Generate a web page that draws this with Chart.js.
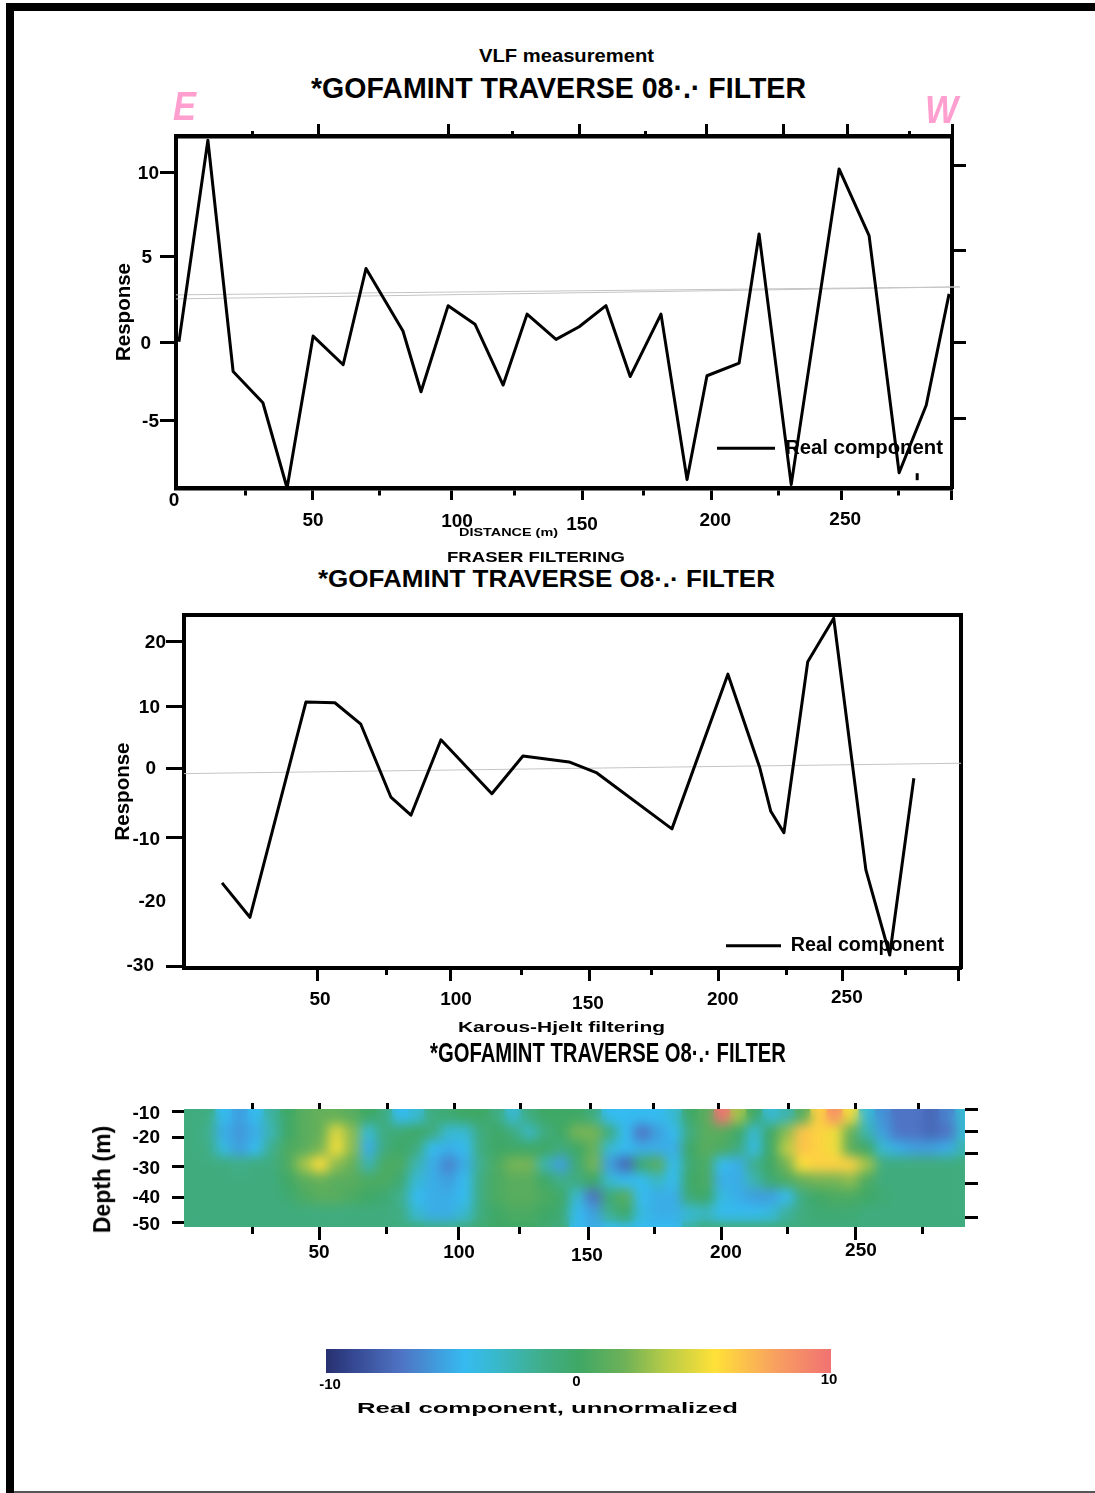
<!DOCTYPE html>
<html><head><meta charset="utf-8">
<script src="https://cdn.jsdelivr.net/npm/chart.js@4/dist/chart.umd.min.js"></script>
<style>
html,body{margin:0;padding:0;background:#fff}
body{position:relative;width:1095px;height:1493px;overflow:hidden;font-family:"Liberation Sans",Arial,sans-serif;color:#000}
canvas{position:absolute;display:block}
.t{position:absolute;white-space:pre;font-weight:bold;transform-origin:0 50%;line-height:1}
.bar{position:absolute;background:#000}
</style></head><body>
<div class="bar" style="left:6px;top:3px;width:8px;height:1490px"></div>
<div class="bar" style="left:6px;top:3px;width:1089px;height:8px"></div>
<div class="bar" style="left:14px;top:1491px;width:1081px;height:2px;background:#555"></div>
<canvas id="c1"></canvas><canvas id="c2"></canvas><canvas id="c3"></canvas><canvas id="c4"></canvas>
<script>
// ---------- text ----------
const titleTexts = ["VLF measurement","*GOFAMINT TRAVERSE 08\u00B7.\u00B7 FILTER","DISTANCE (m)","FRASER FILTERING",
  "*GOFAMINT TRAVERSE O8\u00B7.\u00B7 FILTER","Karous-Hjelt filtering","*GOFAMINT TRAVERSE O8\u00B7.\u00B7 FILTER","Real component, unnormalized","E","W"];
const seriesName = "Real component";
const depthTitle = "Depth (m)";

// ---------- panel 1: VLF measurement ----------
const vlfDistance = [1.1,12.0,21.5,32.7,41.8,51.6,62.9,71.5,85.4,92.2,102.4,112.5,123.1,132.1,143.0,151.7,161.8,170.9,182.5,192.3,199.8,211.9,219.4,231.5,249.5,260.8,272.1,282.3,290.9];
const vlfResponse = [0.06,12.0,-1.7,-3.55,-8.6,0.4,-1.3,4.4,0.7,-2.9,2.2,1.1,-2.5,1.7,0.2,0.95,2.2,-2.0,1.7,-8.1,-1.95,-1.2,6.45,-8.4,10.3,6.35,-7.7,-3.7,2.9];
const vlfFaintA = [[0,2.84],[295,3.31]];
const vlfFaintB = [[0,2.6],[295,3.31]];
const vlfSpeck = [[278.9,-7.93]];
const vlfBottomMajor = [51.2,103.5,152.8,201.4,250.3,291.7];
const vlfBottomMinor = [26,76.4,127.2,175.8,226.9,271.7];
const vlfBottomLabels = {0:"0",51.2:"50",103.5:"100",152.8:"150",201.4:"200",250.3:"250"};
const vlfTopMajor = [53.8,102.7,151.7,199.5,228.5,252.5,292];
const vlfTopMinor = [28.6,126.5,176.5,275.9];
const vlfLeftTicks = [10.06,5.09,0,-4.62];
const vlfLeftLabels = ["10","5","0","-5"];
const vlfRightTicks = [10.5,5.44,0,-4.5];

// ---------- panel 2: Fraser filtering ----------
const fraserDistance = [14.2,24.6,45.5,56.3,66.0,77.2,84.7,95.9,114.9,126.5,143.7,154.1,182.1,203.0,214.9,219.0,223.9,232.8,242.5,254.5,263.4,272.4];
const fraserResponse = [-17.2,-22.5,10.6,10.5,7.2,-4.0,-6.8,4.8,-3.5,2.3,1.4,-0.3,-8.9,14.9,0.5,-6.2,-9.5,16.8,23.5,-15.2,-28.3,-1.1];
const fraserFaint = [[0,-0.4],[290,1.2]];
const fraserBottomMajor = [50,99.3,151.5,199.6,245.9,289.2];
const fraserBottomMinor = [75.4,126.1,174.3,225,269.4];
const fraserBottomLabels = {50:"50",99.3:"100",151.5:"150",199.6:"200",245.9:"250"};
const fraserLeftTicks = [20,10,0.46,-10.3,-19.85,-30];
const fraserLeftLabels = ["20","10","0","-10","-20","-30"];

// ---------- panel 3: Karous-Hjelt filtering (cells) ----------
const heatDistance = [3,9,15,21,27,33,39,45,51,57,63,69,75,81,87,93,99,105,111,117,123,129,135,141,147,153,159,165,171,177,183,189,195,201,207,213,219,225,231,237,243,249,255,261,267,273,279,285,291];
const heatDepth = [-11.8,-17.5,-23.3,-29,-34.7,-40.5,-46.2,-52];
const heatValues = [
[-1,-1,-4.5,-5.5,-4.5,-2,0,1,1.5,1.5,1,0,-1,-4.5,-3.5,-1,-0.5,0,0,-1,-3.5,-1,0,0,0,-1,-4.5,-4.5,-4.5,-4.5,-3.5,0,1,10,3,0,-3.5,-2.5,1,6,8.5,5,-3.5,-6,-7,-7,-7.5,-6.5,-3.5],
[-1,-1.5,-5,-5.8,-5,-2.5,0,1,1.5,4.5,2.5,-3.5,-1,-0.5,0,-1,-3.5,-3.5,-1,0,-1,-3,-1,0,2,2,-1,-4.5,-7,-5.5,-4.5,-1,1,1,0,-3.5,0,2.5,6.5,6,5,1.5,-2.5,-5.5,-7,-7,-7.5,-7,-3.5],
[-1,-1.2,-4,-5.5,-4.5,-1.5,0.5,1,2,5,2.5,-5,-1,0,-1,-4.5,-5,-4.5,-1,0,0,0,0,-1,0,1.5,-3.5,-4.5,-5,-5,-5,0,1,0.5,-1,-4,0,3.5,6.5,6,5,1,0,-3.5,-5,-5.5,-5.5,-5,-2.5],
[-1,-1,-1,-1.5,-1,-1,0.5,3,5.5,2.5,1.5,-2.5,0.5,0.5,-2.5,-5,-6.5,-5,-1.5,0.5,2,2,-2.5,-5.5,-0.5,2,-5.5,-7.5,-0.5,1,-4.5,-0.5,0.5,-4.5,-5,-1.5,0,2,5.5,6,6,6,3,-1,-1,-1,-1,-1,-1],
[-1,-1,-1,-1,-1,-1,0,1,1.5,1,1,0.5,0.5,-0.5,-3.5,-5,-5.5,-4.5,-1,0.5,1,1,0,-1.5,-1,0,-3.5,-4.5,-4.5,-3,-4.5,0,0.5,-5,-5,-2.5,-0.5,0.5,1.5,2,2,2.5,0.5,-1,-1,-1,-1,-1,-1],
[-1,-1,-1,-1,-1,-1,-0.5,0.5,1,1,0.5,0,-0.5,-1.5,-4.5,-5,-5,-4.5,-1,0.5,1,1,0.5,0,-3.5,-7,-0.5,1,-4.5,-5,-5,-0.5,0,-4,-5,-5.5,-5.5,-4.5,-1,0,0.5,0.5,0,-0.5,-1,-1,-1,-1,-1],
[-1,-1,-1,-1,-1,-1,-1,-1,-1,-1,-1,-1,-1,-1.2,-3.5,-5,-5,-3.5,-1,0,0.5,0.5,0,-0.5,-4.5,-5.5,-1.5,0,-4,-5,-5,-3.5,-3,-4.5,-4.5,-4.5,-4,-2,-1,-0.5,-0.5,-0.5,-1,-1,-1,-1,-1,-1,-1],
[-1,-1,-1,-1,-1,-1,-1,-1,-1,-1,-1,-1,-1,-1,-1,-1.5,-1.5,-1,-0.5,0,0,0,-0.5,-1,-4.5,-5,-4.5,-4,-4.5,-4.5,-4.5,-2,-1,-1,-1,-1,-1,-1,-1,-1,-1,-1,-1,-1,-1,-1,-1,-1,-1]
];
const heatBottomMajor = [50.4,102.6,151.1,200.7,250.7];
const heatBottomMinor = [25.4,75.7,125,175.7,225,275.7];
const heatBottomLabels = {50.4:"50",102.6:"100",151.1:"150",200.7:"200",250.7:"250"};
const heatTopTicks = [25.4,50.4,76.1,101.1,125.4,151.5,175,199.6,225.4,250.7,273.9];
const heatLeftTicks = [-10,-18.93,-29.64,-40.36,-49.64];
const heatLeftLabels = ["-10","-20","-30","-40","-50"];
const heatRightTicks = [-8.93,-16.79,-25,-35.71,-47.5];

// ---------- colour scale ----------
const scaleValues = [-10,-9,-7,-4.5,-3.4,-1.4,0,1.8,3.5,5.4,7.8,10];
const scaleColours = ["#26306f","#34468f","#4f74c4","#35bbf0","#38b9d0","#40ae88","#3fa866","#6db158","#b9cc46","#ffe138","#f8a060","#f17272"];
const scaleTicks = [-10,0,10];

// ---------- helpers ----------
Chart.defaults.font.family = '"Liberation Sans",Arial,sans-serif';
Chart.defaults.font.weight = 'bold';
Chart.defaults.font.size = 19;
Chart.defaults.color = '#000';

const hex = h => [1,3,5].map(i=>parseInt(h.substr(i,2),16));
function colourFor(v){
  if(v<=scaleValues[0]) return scaleColours[0];
  for(let i=1;i<scaleValues.length;i++){
    if(v<=scaleValues[i]){
      const f=(v-scaleValues[i-1])/(scaleValues[i]-scaleValues[i-1]);
      const a=hex(scaleColours[i-1]),b=hex(scaleColours[i]);
      return 'rgb('+a.map((c,k)=>Math.round(c+(b[k]-c)*f)).join(',')+')';
    }
  }
  return scaleColours[scaleColours.length-1];
}
const pairs=(xs,ys)=>xs.map((x,i)=>({x,y:ys[i]}));
const lineOf=a=>a.map(p=>({x:p[0],y:p[1]}));

function place(id,left,top,w,h){
  const c=document.getElementById(id);
  c.width=w;c.height=h;c.style.left=left+'px';c.style.top=top+'px';c.style.width=w+'px';c.style.height=h+'px';
  return c;
}
function axis(position,min,max,size,o){
  const major=o.major||[],minor=o.minor||[],hidden=o.hiddenTicks||[];
  const all=[...major,...minor].sort((a,b)=>a-b);
  const horiz=position==='top'||position==='bottom';
  const tl=o.tickLength||0,sl=o.shortLength||5;
  const isMinor=v=>minor.includes(v);
  return {
    type:'linear',position,min,max,offset:false,
    afterBuildTicks:s=>{s.ticks=all.map(v=>({value:v}));},
    afterFit:s=>{ if(horiz) s.height=size; else s.width=size; },
    border:{display:o.border!==false,width:o.borderWidth||4,color:'#000'},
    grid:{display:true,drawOnChartArea:false,drawTicks:tl>0,tickLength:tl,tickWidth:3,
      tickColor:c=>{const t=c.tick; return t&&hidden.includes(t.value)?'rgba(0,0,0,0)':'#000';},
      tickBorderDash:c=>{
        const t=c.tick; if(!t||!isMinor(t.value)) return [];
        return (position==='top'||position==='left')?[0,tl-sl,sl,200]:[sl,200];
      }},
    ticks:{display:!!o.labels,autoSkip:false,maxRotation:0,minRotation:0,padding:o.padding||2,
      callback:v=>{ if(!o.labels) return ''; const r=o.labels(v); return r===undefined?'':r; },
      font:{size:o.fontSize||19,weight:'bold'},color:'#000'},
    title:o.title?{display:true,text:o.title,font:{size:o.titleSize||20.5,weight:'bold'},padding:{top:o.titleInset||0,bottom:0},color:'#000'}:{display:false}
  };
}
const nudge={id:'nudge',
  afterLayout(chart,args,opts){
    if(opts.legendAt&&chart.legend){ chart.legend.left=opts.legendAt[0]; chart.legend.top=opts.legendAt[1]; chart.legend.right=chart.width; chart.legend.bottom=chart.height; }
  },
  beforeDraw(chart,args,opts){
    const map=opts.labels||{};
    for(const id of Object.keys(map)){
      const s=chart.scales[id]; if(!s) continue;
      const items=s.getLabelItems(chart.chartArea);
      items.forEach(it=>{
        if(it.__n) return; const txt=String(it.label); const d=map[id][txt];
        if(d){ it.options.translation=[it.options.translation[0]+d[0],it.options.translation[1]+d[1]]; }
        it.__n=true;
      });
    }
  }};
// background fill and post-blur of the cells of the depth section
const section={id:'section',
  beforeDatasetsDraw(chart,args,opts){
    if(!opts.fill) return; const a=chart.chartArea,x=chart.ctx;
    x.save();x.fillStyle=opts.fill;x.fillRect(a.left,a.top,a.width,a.height);x.restore();
  },
  afterDatasetDraw(chart,args,opts){
    if(!opts.blur) return; const a=chart.chartArea,x=chart.ctx;
    x.save();x.beginPath();x.rect(a.left,a.top,a.width,a.height);x.clip();
    x.filter='blur('+opts.blur+'px)';
    x.drawImage(chart.canvas,a.left,a.top,a.width,a.height,a.left,a.top,a.width,a.height);
    x.restore();
  }
};
const baseOpts=(extra)=>Object.assign({responsive:false,animation:false,maintainAspectRatio:false,devicePixelRatio:1,
  layout:{padding:0},interaction:{mode:null},events:[]},extra);
const legendFor=(size,w)=>({display:true,position:'chartArea',align:'start',
  labels:{usePointStyle:true,pointStyle:'line',pointStyleWidth:w,boxHeight:size,padding:0,font:{size,weight:'bold'},color:'#000',
    filter:it=>it.text===seriesName}});
const faint={borderColor:'#c4c4c4',borderWidth:1,pointRadius:0,fill:false,clip:false,tension:0};
const main={borderColor:'#000',backgroundColor:'#000',borderWidth:3,pointRadius:0,fill:false,tension:0,borderJoinStyle:'round',clip:false,pointStyle:'line'};

// ---------- chart 1 ----------
new Chart(place('c1',100,120,890,425),{type:'line',plugins:[nudge],
  data:{datasets:[
    Object.assign({label:seriesName,data:pairs(vlfDistance,vlfResponse)},main),
    Object.assign({label:'faint a',data:lineOf(vlfFaintA)},faint),
    Object.assign({label:'faint b',data:lineOf(vlfFaintB)},faint),
    {label:'speck',data:lineOf(vlfSpeck),showLine:false,pointStyle:'line',pointRotation:90,pointRadius:3.5,pointBorderWidth:3,pointBorderColor:'#000'}
  ]},
  options:baseOpts({
    scales:{
      x:axis('bottom',0,292,57,{major:[0,...vlfBottomMajor],minor:vlfBottomMinor,hiddenTicks:[0],tickLength:12,labels:v=>vlfBottomLabels[v],borderWidth:4.5,padding:0}),
      xTop:axis('top',0,292,16,{major:vlfTopMajor,minor:vlfTopMinor,tickLength:12,borderWidth:4.5}),
      y:axis('left',-8.6,12.25,76,{major:vlfLeftTicks,tickLength:16,labels:v=>vlfLeftLabels[vlfLeftTicks.indexOf(v)],title:'Response',titleInset:12,padding:1}),
      yRight:axis('right',-8.6,12.25,38,{major:vlfRightTicks,tickLength:14})
    },
    plugins:{tooltip:{enabled:false},legend:legendFor(20.3,58),
      nudge:{legendAt:[617,318],labels:{x:{'0':[-2,-13],'50':[1,7],'100':[6,8],'150':[0,11],'200':[4,7],'250':[4,6]},y:{'10':[0,1],'5':[-7,1],'0':[-8,1],'-5':[0,1]}}}}
  })});

// ---------- chart 2 ----------
new Chart(place('c2',100,600,890,425),{type:'line',plugins:[nudge],
  data:{datasets:[
    Object.assign({label:seriesName,data:pairs(fraserDistance,fraserResponse)},main),
    Object.assign({label:'faint',data:lineOf(fraserFaint)},faint)
  ]},
  options:baseOpts({
    scales:{
      x:axis('bottom',0,290,57,{major:fraserBottomMajor,minor:fraserBottomMinor,tickLength:13,labels:v=>fraserBottomLabels[v],padding:0}),
      xTop:axis('top',0,290,15,{}),
      y:axis('left',-30.3,24,84,{major:fraserLeftTicks,hiddenTicks:[-19.85],tickLength:18,labels:v=>fraserLeftLabels[fraserLeftTicks.indexOf(v)],title:'Response',titleInset:11,padding:1}),
      yRight:axis('right',-30.3,24,29,{})
    },
    plugins:{tooltip:{enabled:false},legend:legendFor(19.7,55),
      nudge:{legendAt:[626,336],labels:{x:{'50':[2,5],'100':[6,5],'150':[-2,9],'200':[4,5],'250':[4,3]},y:{'20':[1,2],'10':[-5,2],'0':[-9,1],'-10':[-5,2],'-20':[1,2],'-30':[-11,0]}}}}
  })});

// ---------- chart 3 ----------
const heatPoints=[];
heatDepth.forEach((d,r)=>heatDistance.forEach((x,c)=>heatPoints.push({x,y:d,v:heatValues[r][c]})));
new Chart(place('c3',80,1085,910,190),{type:'scatter',plugins:[nudge,section],
  data:{datasets:[{label:'Real component, unnormalized',data:heatPoints,pointStyle:'rect',pointRadius:12.5,pointBorderWidth:0,
    pointBackgroundColor:c=>colourFor(c.raw?c.raw.v:0)}]},
  options:baseOpts({
    scales:{
      x:axis('bottom',0,291.4,48,{major:heatBottomMajor,minor:heatBottomMinor,tickLength:13,shortLength:7,labels:v=>heatBottomLabels[v],border:false,padding:1}),
      xTop:axis('top',0,291.4,24,{major:heatTopTicks,tickLength:6,border:false}),
      y:axis('left',-51.07,-8.93,104,{major:heatLeftTicks,tickLength:12,labels:v=>heatLeftLabels[heatLeftTicks.indexOf(v)],border:false,padding:12}),
      yRight:axis('right',-51.07,-8.93,25,{major:heatRightTicks,tickLength:13,border:false})
    },
    plugins:{tooltip:{enabled:false},legend:{display:false},section:{fill:colourFor(-1),blur:6},
      nudge:{labels:{x:{'150':[-2,3],'200':[4,0],'250':[5,-2]},y:{'-10':[0,2],'-20':[0,1],'-30':[0,2],'-40':[0,1],'-50':[0,2]}}}}
  })});

// ---------- colour bar ----------
new Chart(place('c4',300,1340,560,60),{type:'bar',plugins:[nudge],
  data:{labels:[''],datasets:[{label:'scale',data:[[-10,10]],barPercentage:1,categoryPercentage:1,
    backgroundColor:c=>{
      const a=c.chart.chartArea; if(!a) return '#3fa866';
      const g=c.chart.ctx.createLinearGradient(a.left,0,a.right,0);
      scaleValues.forEach((v,i)=>g.addColorStop((v+10)/20,scaleColours[i]));
      return g;
    }}]},
  options:baseOpts({indexAxis:'y',
    scales:{
      x:{type:'linear',position:'bottom',min:-10,max:10,afterBuildTicks:s=>{s.ticks=scaleTicks.map(v=>({value:v}));},
        afterFit:s=>{s.height=27;},border:{display:false},grid:{display:false},
        ticks:{autoSkip:false,maxRotation:0,padding:2,font:{size:15,weight:'bold'},color:'#000',callback:v=>String(v)}},
      y:{display:false,type:'category'},
    },
    layout:{padding:{left:26,right:29,top:9,bottom:0}},
    plugins:{tooltip:{enabled:false},legend:{display:false},nudge:{labels:{x:{'-10':[4,-7],'0':[-2,-10],'10':[-2,-12]}}}}
  })});

// ---------- titles as real text ----------
const titleStyles=[
 [0,479,654,55,19,'normal'],[1,311,806,88,29,'normal'],[2,459,558,532,11,'normal'],[3,447,625,556,15,'normal'],
 [4,318,775,579,23,'normal'],[5,458,665,1026,15,'normal'],[6,430,786,1053,28,'normal'],[7,357,738,1407,15,'normal'],
 [8,173,196,106,40,'italic'],[9,925,958,110,38,'italic']];
titleStyles.forEach(([i,l,r,cy,fs,st])=>{
  const d=document.createElement('div');d.className='t';d.textContent=titleTexts[i];
  d.style.fontSize=fs+'px';d.style.fontStyle=st;d.style.left=l+'px';d.style.top=(cy-fs/2)+'px';
  if(st==='italic') d.style.color='#ff9fd0';
  document.body.appendChild(d);
  const w=d.getBoundingClientRect().width;
  d.style.transform='scaleX('+((r-l)/w)+')';
});
// rotated depth label of the section
const dl=document.createElement('div');dl.className='t';dl.textContent=depthTitle;
dl.style.fontSize='23px';dl.style.transformOrigin='50% 50%';
document.body.appendChild(dl);
const dw=dl.getBoundingClientRect().width;
dl.style.left=(103-dw/2)+'px';dl.style.top=(1179-11.5)+'px';dl.style.transform='rotate(-90deg)';
</script></body></html>
